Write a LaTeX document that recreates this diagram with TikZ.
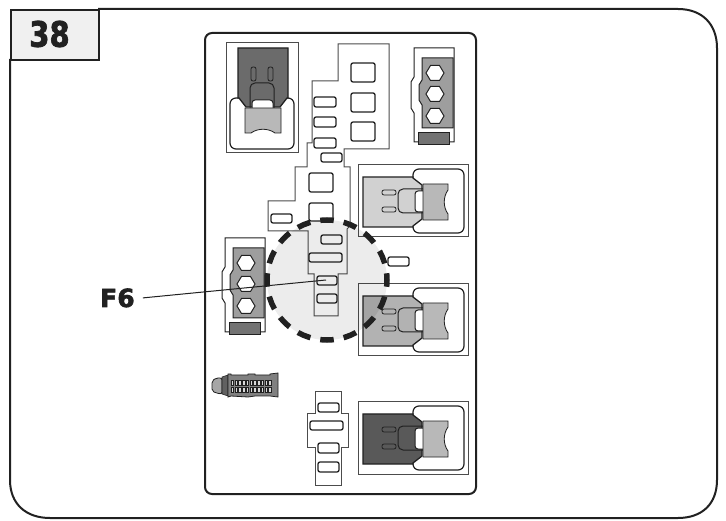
\documentclass[tikz,border=0pt]{standalone}
\usepackage{fontspec}
\usepackage{graphicx}
\newfontfamily\heavyfont[FakeBold=2.2]{DejaVu Sans Bold}
\definecolor{ink}{gray}{0.13}
\definecolor{lowline}{gray}{0.3}
\tikzset{
  fuse/.style={draw=ink,line width=1.3pt,rounded corners=2pt,fill=white},
  thin frame/.style={draw=lowline,line width=1pt,fill=white},
  plug line/.style={draw=ink,line width=1pt},
  big label/.style={font=\heavyfont,text=ink,inner sep=0pt},
}
\newcommand{\plugbody}[2]{%
  \begin{scope}[#1]
    \path[thin frame] (0,0) rectangle (110,72);
    \draw[plug line,line width=1.2pt,fill=white,rounded corners=6pt] (55,14) -- (55,4) -- (106,4) -- (106,68) -- (55,68) -- (55,58);
    \fill[#2,draw=ink,line width=1.3pt] (5,12) -- (55,12) -- (55,13) -- (64,20) -- (64,54) -- (55,61) -- (55,62) -- (5,62) -- cycle;
    \draw[plug line,rounded corners=5pt] (65,24) -- (40,24) -- (40,48) -- (65,48);
    \draw[plug line,fill=white,rounded corners=3pt] (65,26) -- (57,26) -- (57,47) -- (65,47);
    \fill[black!28,draw=ink,line width=0.8pt] (65,19) -- (90,19) -- (90,25) .. controls (85,32) and (85,42) .. (90,49) -- (90,55) -- (65,55) -- cycle;
    \draw[draw=ink,line width=0.8pt,rounded corners=2pt] (24,25) rectangle (38,30);
    \draw[draw=ink,line width=0.8pt,rounded corners=2pt] (24,42) rectangle (38,47);
  \end{scope}}
\newcommand{\hexa}[2]{%
  \draw[plug line,fill=white] (#1-9,#2) -- (#1-4.5,#2-7.5) -- (#1+4.5,#2-7.5) -- (#1+9,#2) -- (#1+4.5,#2+7.5) -- (#1-4.5,#2+7.5) -- cycle;}
\newcommand{\triplug}[1]{%
  \begin{scope}[shift={(#1)}]
    \path[draw=ink,line width=1pt,fill=white] (0,0) -- (40,0) -- (40,94) -- (0,94) -- (0,65) -- (-3,60) -- (-3,34) -- (0,29) -- cycle;
    \fill[black!38,draw=ink,line width=1pt] (8,10) -- (39,10) -- (39,80) -- (8,80) -- (8,57) -- (5,52) -- (5,37) -- (8,32) -- cycle;
    \fill[black!55,draw=ink,line width=0.8pt] (4,84) rectangle (35,96);
    \hexa{21}{25}
    \hexa{21}{46}
    \hexa{21}{68}
  \end{scope}}
\newcommand{\fusebox}[4]{\path[fuse] (#1,#2) rectangle (#3,#4);}
\begin{document}
\begin{tikzpicture}[x=1pt,y=-1pt]
\useasboundingbox (0,0) rectangle (726,521);
\fill[white] (0,0) rectangle (726,521);
% outer frame
\draw[ink,line width=2pt] (98,9) -- (678,9) .. controls (702,9) and (717,24) .. (717,48) -- (717,480) .. controls (717,504) and (702,518) .. (678,518) -- (50,518) .. controls (26,518) and (10,504) .. (10,480) -- (10,59);
\node[draw=ink,line width=2pt,fill=black!6,minimum width=88pt,minimum height=50pt,inner sep=0pt,anchor=north west] (badge) at (10,9.5) {};
\node[big label] (num) at (49.5,34) {\scalebox{.83}[1]{\fontsize{35pt}{35pt}\selectfont 38}};
% panel
\draw[ink,line width=2pt,fill=white,rounded corners=7pt] (205,33) rectangle (476,494);
% fuse block outlines
\path[thin frame] (338,44) -- (389,44) -- (389,149) -- (344,149) -- (344,167) -- (350,167) -- (350,226) -- (347,229) -- (347,274) -- (338,274) -- (338,316) -- (314,316) -- (314,274) -- (308,274) -- (308,231) -- (268,231) -- (268,201) -- (295,201) -- (295,167) -- (307,167) -- (307,143) -- (312,143) -- (312,81) -- (338,81) -- cycle;
\path[thin frame] (315,392) -- (341,392) -- (341,414) -- (348,414) -- (348,447) -- (341,447) -- (341,485) -- (315,485) -- (315,447) -- (307,447) -- (307,414) -- (315,414) -- cycle;
% fuses
\fusebox{351}{63}{375}{82}
\fusebox{351}{93}{375}{112}
\fusebox{351}{122}{375}{141}
\fusebox{314}{97}{336}{107}
\fusebox{314}{117}{336}{127}
\fusebox{314}{138}{336}{148}
\fusebox{321}{153}{342}{162}
\fusebox{309}{173}{333}{192}
\fusebox{309}{203}{333}{221}
\fusebox{271}{214}{292}{223}
\fusebox{321}{235}{342}{244}
\fusebox{309}{253}{342}{262}
\fusebox{317}{276}{337}{285}
\fusebox{317}{294}{337}{303}
\fusebox{388}{257}{409}{266}
\fusebox{318}{403}{339}{412}
\fusebox{310}{421}{343}{430}
\fusebox{318}{443}{339}{453}
\fusebox{318}{462}{339}{472}
% plugs
\plugbody{cm={0,-1,-1,0,(226,43)}}{black!58}
\plugbody{shift={(358,165)}}{black!18}
\plugbody{shift={(358,284)}}{black!30}
\plugbody{shift={(358,402)}}{black!65}
\triplug{414,48}
\triplug{225,238}
% multi-pin connector
\fill[black!35,draw=ink,line width=0.8pt,rounded corners=2pt] (222,378) -- (216,378) -- (212,381) -- (212,391) -- (216,393) -- (222,394) -- cycle;
\fill[black!62,draw=ink,line width=0.6pt] (222,377) -- (228,375) -- (228,396) -- (222,394) -- cycle;
\fill[black!50,draw=ink,line width=0.8pt] (228,374) -- (231,374) -- (231,375) -- (248,375) -- (248,374) -- (255,374) -- (255,375) -- (270,375) -- (270,374) -- (278,373) -- (278,397) -- (270,396) -- (255,396) -- (248,397) -- (231,396) -- (228,397) -- cycle;
\foreach \k in {0,...,10}{
  \fill[black!15,draw=ink,line width=0.5pt] ({231+3.75*\k},380.5) rectangle ++(2.6,5.2);
  \fill[black!15,draw=ink,line width=0.5pt] ({231+3.75*\k},387.5) rectangle ++(2.6,5.2);
}
% highlight
\fill[black,opacity=0.075] (327,280) circle[radius=60];
\draw[ink,line width=5.5pt,dash pattern=on 13.5pt off 10.06pt,dash phase=6.75pt] (327,280) circle[radius=60];
% label and leader
\node[big label,anchor=base west] (f6) at (100,307) {\fontsize{25pt}{25pt}\selectfont F6};
\coordinate (f6end) at (326,280);
\draw[ink,line width=1pt] (f6.east) ++(8pt,0pt) coordinate (f6start) -- (f6end);
\end{tikzpicture}
\end{document}
